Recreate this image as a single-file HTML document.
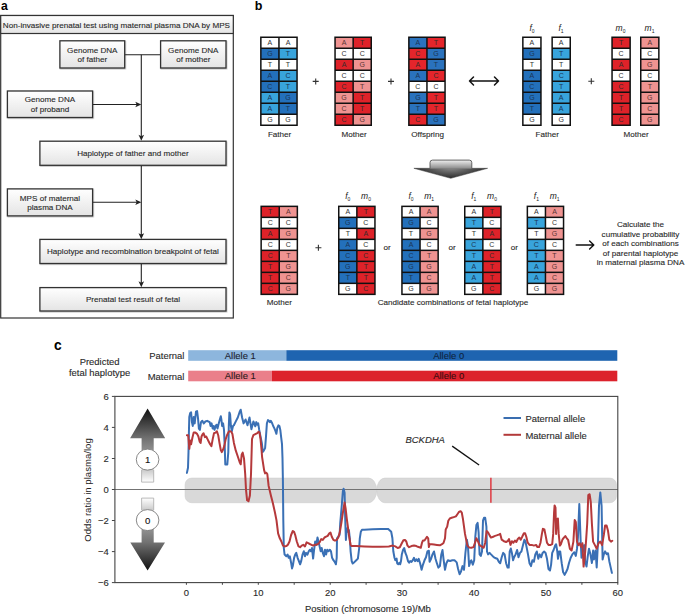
<!DOCTYPE html><html><head><meta charset="utf-8"><style>html,body{margin:0;padding:0;background:#fff;}svg{display:block;}text{font-family:"Liberation Sans",sans-serif;}</style></head><body>
<svg width="685" height="615" viewBox="0 0 685 615">
<defs>
<linearGradient id="boxg" x1="0" y1="0" x2="0" y2="1"><stop offset="0" stop-color="#ffffff"/><stop offset="1" stop-color="#e4e4e4"/></linearGradient>
<linearGradient id="bigarrow" x1="0" y1="0" x2="0" y2="1"><stop offset="0" stop-color="#e6e6e6"/><stop offset="0.45" stop-color="#9a9a9a"/><stop offset="1" stop-color="#2a2a2a"/></linearGradient>
<linearGradient id="upg" x1="0" y1="0" x2="0" y2="1"><stop offset="0" stop-color="#111111"/><stop offset="0.4" stop-color="#707070"/><stop offset="0.75" stop-color="#b0b0b0"/><stop offset="1" stop-color="#ffffff"/></linearGradient>
<linearGradient id="dng" x1="0" y1="1" x2="0" y2="0"><stop offset="0" stop-color="#111111"/><stop offset="0.39" stop-color="#727272"/><stop offset="0.75" stop-color="#b0b0b0"/><stop offset="1" stop-color="#ffffff"/></linearGradient>
<linearGradient id="shaftg" x1="0" y1="0" x2="0" y2="1"><stop offset="0" stop-color="#f2f2f2"/><stop offset="0.25" stop-color="#d6d6d6"/><stop offset="1" stop-color="#8a8a8a"/></linearGradient>
<radialGradient id="headg" gradientUnits="userSpaceOnUse" cx="0" cy="0" r="1" gradientTransform="translate(450.8,167.5) scale(38,11.5)"><stop offset="0" stop-color="#8e8e8e"/><stop offset="0.45" stop-color="#5e5e5e"/><stop offset="1" stop-color="#252525"/></radialGradient>
<filter id="sh" x="-5%" y="-5%" width="115%" height="130%"><feDropShadow dx="0.6" dy="0.8" stdDeviation="0.6" flood-color="#000" flood-opacity="0.25"/></filter>
</defs>
<text x="0.9" y="9.8" font-size="12.2" text-anchor="start" fill="#000" stroke="#000" stroke-width="0" font-weight="bold" font-style="normal" >a</text>
<rect x="0.7" y="15.5" width="232.6" height="302.5" fill="#fff" stroke="#333" stroke-width="1.2"/>
<rect x="0.7" y="15.5" width="232.6" height="18" fill="url(#boxg)" stroke="#333" stroke-width="1.2"/>
<text x="116.4" y="27.7" font-size="8.12" text-anchor="middle" fill="#2a2a2a" stroke="#2a2a2a" stroke-width="0.12" font-weight="normal" font-style="normal" >Non-invasive prenatal test using maternal plasma DNA by MPS</text>
<g stroke="#222" stroke-width="1.1" fill="none">
<path d="M124.7,54.8H160.6"/>
<path d="M141.3,54.8V138"/>
<path d="M92.6,104.5H139"/>
<path d="M141.3,165.3V236"/>
<path d="M92.6,202.3H139"/>
<path d="M141.3,263.5V284.5"/>
</g>
<path d="M141.3,104.5 L135.3,101.7 L136.70000000000002,104.5 L135.3,107.3Z" fill="#222"/>
<path d="M141.3,202.3 L135.3,199.5 L136.70000000000002,202.3 L135.3,205.10000000000002Z" fill="#222"/>
<path d="M141.3,140.8 L138.5,134.8 L141.3,136.20000000000002 L144.10000000000002,134.8Z" fill="#222"/>
<path d="M141.3,239.2 L138.5,233.2 L141.3,234.6 L144.10000000000002,233.2Z" fill="#222"/>
<path d="M141.3,287.3 L138.5,281.3 L141.3,282.7 L144.10000000000002,281.3Z" fill="#222"/>
<rect x="59.9" y="40.8" width="64.80000000000001" height="27.200000000000003" fill="url(#boxg)" stroke="#333" stroke-width="1.3" filter="url(#sh)"/>
<text x="92.3" y="52.52" font-size="8.1" text-anchor="middle" fill="#2a2a2a" stroke="#2a2a2a" stroke-width="0.12" font-weight="normal" font-style="normal" >Genome DNA</text>
<text x="92.3" y="62.12" font-size="8.1" text-anchor="middle" fill="#2a2a2a" stroke="#2a2a2a" stroke-width="0.12" font-weight="normal" font-style="normal" >of father</text>
<rect x="160.6" y="40.8" width="65.4" height="27.200000000000003" fill="url(#boxg)" stroke="#333" stroke-width="1.3" filter="url(#sh)"/>
<text x="193.3" y="52.52" font-size="8.1" text-anchor="middle" fill="#2a2a2a" stroke="#2a2a2a" stroke-width="0.12" font-weight="normal" font-style="normal" >Genome DNA</text>
<text x="193.3" y="62.12" font-size="8.1" text-anchor="middle" fill="#2a2a2a" stroke="#2a2a2a" stroke-width="0.12" font-weight="normal" font-style="normal" >of mother</text>
<rect x="7.4" y="91.0" width="85.19999999999999" height="26.5" fill="url(#boxg)" stroke="#333" stroke-width="1.3" filter="url(#sh)"/>
<text x="50.0" y="102.37" font-size="8.1" text-anchor="middle" fill="#2a2a2a" stroke="#2a2a2a" stroke-width="0.12" font-weight="normal" font-style="normal" >Genome DNA</text>
<text x="50.0" y="111.97" font-size="8.1" text-anchor="middle" fill="#2a2a2a" stroke="#2a2a2a" stroke-width="0.12" font-weight="normal" font-style="normal" >of proband</text>
<rect x="39.9" y="141.2" width="186.1" height="24.100000000000023" fill="url(#boxg)" stroke="#333" stroke-width="1.3" filter="url(#sh)"/>
<text x="132.95" y="156.17" font-size="8.1" text-anchor="middle" fill="#2a2a2a" stroke="#2a2a2a" stroke-width="0.12" font-weight="normal" font-style="normal" >Haplotype of father and mother</text>
<rect x="7.4" y="188.9" width="85.19999999999999" height="27.0" fill="url(#boxg)" stroke="#333" stroke-width="1.3" filter="url(#sh)"/>
<text x="50.0" y="200.52" font-size="8.1" text-anchor="middle" fill="#2a2a2a" stroke="#2a2a2a" stroke-width="0.12" font-weight="normal" font-style="normal" >MPS of maternal</text>
<text x="50.0" y="210.12" font-size="8.1" text-anchor="middle" fill="#2a2a2a" stroke="#2a2a2a" stroke-width="0.12" font-weight="normal" font-style="normal" >plasma DNA</text>
<rect x="39.9" y="239.4" width="186.1" height="24.099999999999994" fill="url(#boxg)" stroke="#333" stroke-width="1.3" filter="url(#sh)"/>
<text x="132.95" y="254.37" font-size="8.1" text-anchor="middle" fill="#2a2a2a" stroke="#2a2a2a" stroke-width="0.12" font-weight="normal" font-style="normal" >Haplotype and recombination breakpoint of fetal</text>
<rect x="39.9" y="287.6" width="186.1" height="23.399999999999977" fill="url(#boxg)" stroke="#333" stroke-width="1.3" filter="url(#sh)"/>
<text x="132.95" y="302.22" font-size="8.1" text-anchor="middle" fill="#2a2a2a" stroke="#2a2a2a" stroke-width="0.12" font-weight="normal" font-style="normal" >Prenatal test result of fetal</text>
<text x="254.8" y="9.7" font-size="12.5" text-anchor="start" fill="#000" stroke="#000" stroke-width="0" font-weight="bold" font-style="normal" >b</text>
<rect x="260.1" y="36.5" width="37.70" height="89.50" fill="#111"/>
<rect x="261.60" y="38.00" width="16.6" height="9.5" fill="#ffffff"/>
<text x="269.90" y="45.25" font-size="7" text-anchor="middle" fill="#333">A</text>
<rect x="261.60" y="49.00" width="16.6" height="9.5" fill="#2370bb"/>
<text x="269.90" y="56.25" font-size="7" text-anchor="middle" fill="#1b3556">G</text>
<rect x="261.60" y="60.00" width="16.6" height="9.5" fill="#ffffff"/>
<text x="269.90" y="67.25" font-size="7" text-anchor="middle" fill="#333">T</text>
<rect x="261.60" y="71.00" width="16.6" height="9.5" fill="#2370bb"/>
<text x="269.90" y="78.25" font-size="7" text-anchor="middle" fill="#1b3556">A</text>
<rect x="261.60" y="82.00" width="16.6" height="9.5" fill="#2370bb"/>
<text x="269.90" y="89.25" font-size="7" text-anchor="middle" fill="#1b3556">C</text>
<rect x="261.60" y="93.00" width="16.6" height="9.5" fill="#38a4dc"/>
<text x="269.90" y="100.25" font-size="7" text-anchor="middle" fill="#1b3556">A</text>
<rect x="261.60" y="104.00" width="16.6" height="9.5" fill="#38a4dc"/>
<text x="269.90" y="111.25" font-size="7" text-anchor="middle" fill="#1b3556">A</text>
<rect x="261.60" y="115.00" width="16.6" height="9.5" fill="#ffffff"/>
<text x="269.90" y="122.25" font-size="7" text-anchor="middle" fill="#333">G</text>
<rect x="279.70" y="38.00" width="16.6" height="9.5" fill="#ffffff"/>
<text x="288.00" y="45.25" font-size="7" text-anchor="middle" fill="#333">A</text>
<rect x="279.70" y="49.00" width="16.6" height="9.5" fill="#38a4dc"/>
<text x="288.00" y="56.25" font-size="7" text-anchor="middle" fill="#1b3556">T</text>
<rect x="279.70" y="60.00" width="16.6" height="9.5" fill="#ffffff"/>
<text x="288.00" y="67.25" font-size="7" text-anchor="middle" fill="#333">T</text>
<rect x="279.70" y="71.00" width="16.6" height="9.5" fill="#38a4dc"/>
<text x="288.00" y="78.25" font-size="7" text-anchor="middle" fill="#1b3556">C</text>
<rect x="279.70" y="82.00" width="16.6" height="9.5" fill="#38a4dc"/>
<text x="288.00" y="89.25" font-size="7" text-anchor="middle" fill="#1b3556">T</text>
<rect x="279.70" y="93.00" width="16.6" height="9.5" fill="#2370bb"/>
<text x="288.00" y="100.25" font-size="7" text-anchor="middle" fill="#1b3556">G</text>
<rect x="279.70" y="104.00" width="16.6" height="9.5" fill="#2370bb"/>
<text x="288.00" y="111.25" font-size="7" text-anchor="middle" fill="#1b3556">T</text>
<rect x="279.70" y="115.00" width="16.6" height="9.5" fill="#ffffff"/>
<text x="288.00" y="122.25" font-size="7" text-anchor="middle" fill="#333">G</text>
<rect x="334.3" y="36.5" width="37.70" height="89.50" fill="#111"/>
<rect x="335.80" y="38.00" width="16.6" height="9.5" fill="#ef9391"/>
<text x="344.10" y="45.25" font-size="7" text-anchor="middle" fill="#5a3333">A</text>
<rect x="335.80" y="49.00" width="16.6" height="9.5" fill="#ffffff"/>
<text x="344.10" y="56.25" font-size="7" text-anchor="middle" fill="#333">C</text>
<rect x="335.80" y="60.00" width="16.6" height="9.5" fill="#de2229"/>
<text x="344.10" y="67.25" font-size="7" text-anchor="middle" fill="#3a2a2a">A</text>
<rect x="335.80" y="71.00" width="16.6" height="9.5" fill="#ffffff"/>
<text x="344.10" y="78.25" font-size="7" text-anchor="middle" fill="#333">C</text>
<rect x="335.80" y="82.00" width="16.6" height="9.5" fill="#de2229"/>
<text x="344.10" y="89.25" font-size="7" text-anchor="middle" fill="#3a2a2a">C</text>
<rect x="335.80" y="93.00" width="16.6" height="9.5" fill="#ef9391"/>
<text x="344.10" y="100.25" font-size="7" text-anchor="middle" fill="#5a3333">G</text>
<rect x="335.80" y="104.00" width="16.6" height="9.5" fill="#ef9391"/>
<text x="344.10" y="111.25" font-size="7" text-anchor="middle" fill="#5a3333">C</text>
<rect x="335.80" y="115.00" width="16.6" height="9.5" fill="#de2229"/>
<text x="344.10" y="122.25" font-size="7" text-anchor="middle" fill="#3a2a2a">C</text>
<rect x="353.90" y="38.00" width="16.6" height="9.5" fill="#de2229"/>
<text x="362.20" y="45.25" font-size="7" text-anchor="middle" fill="#3a2a2a">T</text>
<rect x="353.90" y="49.00" width="16.6" height="9.5" fill="#ffffff"/>
<text x="362.20" y="56.25" font-size="7" text-anchor="middle" fill="#333">C</text>
<rect x="353.90" y="60.00" width="16.6" height="9.5" fill="#ef9391"/>
<text x="362.20" y="67.25" font-size="7" text-anchor="middle" fill="#5a3333">G</text>
<rect x="353.90" y="71.00" width="16.6" height="9.5" fill="#ffffff"/>
<text x="362.20" y="78.25" font-size="7" text-anchor="middle" fill="#333">C</text>
<rect x="353.90" y="82.00" width="16.6" height="9.5" fill="#ef9391"/>
<text x="362.20" y="89.25" font-size="7" text-anchor="middle" fill="#5a3333">T</text>
<rect x="353.90" y="93.00" width="16.6" height="9.5" fill="#de2229"/>
<text x="362.20" y="100.25" font-size="7" text-anchor="middle" fill="#3a2a2a">T</text>
<rect x="353.90" y="104.00" width="16.6" height="9.5" fill="#de2229"/>
<text x="362.20" y="111.25" font-size="7" text-anchor="middle" fill="#3a2a2a">T</text>
<rect x="353.90" y="115.00" width="16.6" height="9.5" fill="#ef9391"/>
<text x="362.20" y="122.25" font-size="7" text-anchor="middle" fill="#5a3333">G</text>
<rect x="408.1" y="36.5" width="37.70" height="89.50" fill="#111"/>
<rect x="409.60" y="38.00" width="16.6" height="9.5" fill="#2a72bd"/>
<text x="417.90" y="45.25" font-size="7" text-anchor="middle" fill="#1b3556">A</text>
<rect x="409.60" y="49.00" width="16.6" height="9.5" fill="#e4252b"/>
<text x="417.90" y="56.25" font-size="7" text-anchor="middle" fill="#3a2a2a">C</text>
<rect x="409.60" y="60.00" width="16.6" height="9.5" fill="#e4252b"/>
<text x="417.90" y="67.25" font-size="7" text-anchor="middle" fill="#3a2a2a">A</text>
<rect x="409.60" y="71.00" width="16.6" height="9.5" fill="#2a72bd"/>
<text x="417.90" y="78.25" font-size="7" text-anchor="middle" fill="#1b3556">A</text>
<rect x="409.60" y="82.00" width="16.6" height="9.5" fill="#ffffff"/>
<text x="417.90" y="89.25" font-size="7" text-anchor="middle" fill="#333">C</text>
<rect x="409.60" y="93.00" width="16.6" height="9.5" fill="#2a72bd"/>
<text x="417.90" y="100.25" font-size="7" text-anchor="middle" fill="#1b3556">G</text>
<rect x="409.60" y="104.00" width="16.6" height="9.5" fill="#2a72bd"/>
<text x="417.90" y="111.25" font-size="7" text-anchor="middle" fill="#1b3556">T</text>
<rect x="409.60" y="115.00" width="16.6" height="9.5" fill="#e4252b"/>
<text x="417.90" y="122.25" font-size="7" text-anchor="middle" fill="#3a2a2a">C</text>
<rect x="427.70" y="38.00" width="16.6" height="9.5" fill="#e4252b"/>
<text x="436.00" y="45.25" font-size="7" text-anchor="middle" fill="#3a2a2a">T</text>
<rect x="427.70" y="49.00" width="16.6" height="9.5" fill="#2a72bd"/>
<text x="436.00" y="56.25" font-size="7" text-anchor="middle" fill="#1b3556">G</text>
<rect x="427.70" y="60.00" width="16.6" height="9.5" fill="#2a72bd"/>
<text x="436.00" y="67.25" font-size="7" text-anchor="middle" fill="#1b3556">T</text>
<rect x="427.70" y="71.00" width="16.6" height="9.5" fill="#e4252b"/>
<text x="436.00" y="78.25" font-size="7" text-anchor="middle" fill="#3a2a2a">C</text>
<rect x="427.70" y="82.00" width="16.6" height="9.5" fill="#ffffff"/>
<text x="436.00" y="89.25" font-size="7" text-anchor="middle" fill="#333">C</text>
<rect x="427.70" y="93.00" width="16.6" height="9.5" fill="#e4252b"/>
<text x="436.00" y="100.25" font-size="7" text-anchor="middle" fill="#3a2a2a">T</text>
<rect x="427.70" y="104.00" width="16.6" height="9.5" fill="#e4252b"/>
<text x="436.00" y="111.25" font-size="7" text-anchor="middle" fill="#3a2a2a">T</text>
<rect x="427.70" y="115.00" width="16.6" height="9.5" fill="#2a72bd"/>
<text x="436.00" y="122.25" font-size="7" text-anchor="middle" fill="#1b3556">G</text>
<rect x="522.1" y="36.5" width="19.60" height="89.50" fill="#111"/>
<rect x="523.60" y="38.00" width="16.6" height="9.5" fill="#ffffff"/>
<text x="531.90" y="45.25" font-size="7" text-anchor="middle" fill="#333">A</text>
<rect x="523.60" y="49.00" width="16.6" height="9.5" fill="#2370bb"/>
<text x="531.90" y="56.25" font-size="7" text-anchor="middle" fill="#1b3556">G</text>
<rect x="523.60" y="60.00" width="16.6" height="9.5" fill="#ffffff"/>
<text x="531.90" y="67.25" font-size="7" text-anchor="middle" fill="#333">T</text>
<rect x="523.60" y="71.00" width="16.6" height="9.5" fill="#2370bb"/>
<text x="531.90" y="78.25" font-size="7" text-anchor="middle" fill="#1b3556">A</text>
<rect x="523.60" y="82.00" width="16.6" height="9.5" fill="#2370bb"/>
<text x="531.90" y="89.25" font-size="7" text-anchor="middle" fill="#1b3556">C</text>
<rect x="523.60" y="93.00" width="16.6" height="9.5" fill="#2370bb"/>
<text x="531.90" y="100.25" font-size="7" text-anchor="middle" fill="#1b3556">G</text>
<rect x="523.60" y="104.00" width="16.6" height="9.5" fill="#2370bb"/>
<text x="531.90" y="111.25" font-size="7" text-anchor="middle" fill="#1b3556">T</text>
<rect x="523.60" y="115.00" width="16.6" height="9.5" fill="#ffffff"/>
<text x="531.90" y="122.25" font-size="7" text-anchor="middle" fill="#333">G</text>
<rect x="551.4" y="36.5" width="19.60" height="89.50" fill="#111"/>
<rect x="552.90" y="38.00" width="16.6" height="9.5" fill="#ffffff"/>
<text x="561.20" y="45.25" font-size="7" text-anchor="middle" fill="#333">A</text>
<rect x="552.90" y="49.00" width="16.6" height="9.5" fill="#38a4dc"/>
<text x="561.20" y="56.25" font-size="7" text-anchor="middle" fill="#1b3556">T</text>
<rect x="552.90" y="60.00" width="16.6" height="9.5" fill="#ffffff"/>
<text x="561.20" y="67.25" font-size="7" text-anchor="middle" fill="#333">T</text>
<rect x="552.90" y="71.00" width="16.6" height="9.5" fill="#38a4dc"/>
<text x="561.20" y="78.25" font-size="7" text-anchor="middle" fill="#1b3556">C</text>
<rect x="552.90" y="82.00" width="16.6" height="9.5" fill="#38a4dc"/>
<text x="561.20" y="89.25" font-size="7" text-anchor="middle" fill="#1b3556">T</text>
<rect x="552.90" y="93.00" width="16.6" height="9.5" fill="#38a4dc"/>
<text x="561.20" y="100.25" font-size="7" text-anchor="middle" fill="#1b3556">A</text>
<rect x="552.90" y="104.00" width="16.6" height="9.5" fill="#38a4dc"/>
<text x="561.20" y="111.25" font-size="7" text-anchor="middle" fill="#1b3556">A</text>
<rect x="552.90" y="115.00" width="16.6" height="9.5" fill="#ffffff"/>
<text x="561.20" y="122.25" font-size="7" text-anchor="middle" fill="#333">G</text>
<rect x="611.3" y="36.5" width="19.60" height="89.50" fill="#111"/>
<rect x="612.80" y="38.00" width="16.6" height="9.5" fill="#de2229"/>
<text x="621.10" y="45.25" font-size="7" text-anchor="middle" fill="#3a2a2a">T</text>
<rect x="612.80" y="49.00" width="16.6" height="9.5" fill="#ffffff"/>
<text x="621.10" y="56.25" font-size="7" text-anchor="middle" fill="#333">C</text>
<rect x="612.80" y="60.00" width="16.6" height="9.5" fill="#de2229"/>
<text x="621.10" y="67.25" font-size="7" text-anchor="middle" fill="#3a2a2a">A</text>
<rect x="612.80" y="71.00" width="16.6" height="9.5" fill="#ffffff"/>
<text x="621.10" y="78.25" font-size="7" text-anchor="middle" fill="#333">C</text>
<rect x="612.80" y="82.00" width="16.6" height="9.5" fill="#de2229"/>
<text x="621.10" y="89.25" font-size="7" text-anchor="middle" fill="#3a2a2a">C</text>
<rect x="612.80" y="93.00" width="16.6" height="9.5" fill="#de2229"/>
<text x="621.10" y="100.25" font-size="7" text-anchor="middle" fill="#3a2a2a">T</text>
<rect x="612.80" y="104.00" width="16.6" height="9.5" fill="#de2229"/>
<text x="621.10" y="111.25" font-size="7" text-anchor="middle" fill="#3a2a2a">T</text>
<rect x="612.80" y="115.00" width="16.6" height="9.5" fill="#de2229"/>
<text x="621.10" y="122.25" font-size="7" text-anchor="middle" fill="#3a2a2a">C</text>
<rect x="640.0" y="36.5" width="19.60" height="89.50" fill="#111"/>
<rect x="641.50" y="38.00" width="16.6" height="9.5" fill="#ef9391"/>
<text x="649.80" y="45.25" font-size="7" text-anchor="middle" fill="#5a3333">A</text>
<rect x="641.50" y="49.00" width="16.6" height="9.5" fill="#ffffff"/>
<text x="649.80" y="56.25" font-size="7" text-anchor="middle" fill="#333">C</text>
<rect x="641.50" y="60.00" width="16.6" height="9.5" fill="#ef9391"/>
<text x="649.80" y="67.25" font-size="7" text-anchor="middle" fill="#5a3333">G</text>
<rect x="641.50" y="71.00" width="16.6" height="9.5" fill="#ffffff"/>
<text x="649.80" y="78.25" font-size="7" text-anchor="middle" fill="#333">C</text>
<rect x="641.50" y="82.00" width="16.6" height="9.5" fill="#ef9391"/>
<text x="649.80" y="89.25" font-size="7" text-anchor="middle" fill="#5a3333">T</text>
<rect x="641.50" y="93.00" width="16.6" height="9.5" fill="#ef9391"/>
<text x="649.80" y="100.25" font-size="7" text-anchor="middle" fill="#5a3333">G</text>
<rect x="641.50" y="104.00" width="16.6" height="9.5" fill="#ef9391"/>
<text x="649.80" y="111.25" font-size="7" text-anchor="middle" fill="#5a3333">C</text>
<rect x="641.50" y="115.00" width="16.6" height="9.5" fill="#ef9391"/>
<text x="649.80" y="122.25" font-size="7" text-anchor="middle" fill="#5a3333">G</text>
<path d="M312.7,81.4H318.7M315.7,78.4V84.4" stroke="#333" stroke-width="1.1" fill="none"/>
<path d="M388.0,81.4H394.0M391.0,78.4V84.4" stroke="#333" stroke-width="1.1" fill="none"/>
<path d="M588.3,81.3H594.3M591.3,78.3V84.3" stroke="#333" stroke-width="1.1" fill="none"/>
<path d="M469.5,81H498.5M473.5,77L469.5,81L473.5,85M494.5,77L498.5,81L494.5,85" stroke="#111" stroke-width="1.5" fill="none" stroke-linecap="round" stroke-linejoin="round"/>
<text x="279.6" y="137.4" font-size="8.1" text-anchor="middle" fill="#2a2a2a" stroke="#2a2a2a" stroke-width="0.12" font-weight="normal" font-style="normal" >Father</text>
<text x="354.0" y="137.4" font-size="8.1" text-anchor="middle" fill="#2a2a2a" stroke="#2a2a2a" stroke-width="0.12" font-weight="normal" font-style="normal" >Mother</text>
<text x="427.6" y="137.4" font-size="8.1" text-anchor="middle" fill="#2a2a2a" stroke="#2a2a2a" stroke-width="0.12" font-weight="normal" font-style="normal" >Offspring</text>
<text x="547.2" y="137.4" font-size="8.1" text-anchor="middle" fill="#2a2a2a" stroke="#2a2a2a" stroke-width="0.12" font-weight="normal" font-style="normal" >Father</text>
<text x="636.0" y="137.4" font-size="8.1" text-anchor="middle" fill="#2a2a2a" stroke="#2a2a2a" stroke-width="0.12" font-weight="normal" font-style="normal" >Mother</text>
<text x="532.0" y="30.7" font-size="8.5" font-style="italic" fill="#222" text-anchor="middle">f<tspan font-size="5" dy="2" font-style="normal">0</tspan></text>
<text x="561.0" y="30.7" font-size="8.5" font-style="italic" fill="#222" text-anchor="middle">f<tspan font-size="5" dy="2" font-style="normal">1</tspan></text>
<text x="620.5" y="30.7" font-size="8.5" font-style="italic" fill="#222" text-anchor="middle">m<tspan font-size="5" dy="2" font-style="normal">0</tspan></text>
<text x="649.5" y="30.7" font-size="8.5" font-style="italic" fill="#222" text-anchor="middle">m<tspan font-size="5" dy="2" font-style="normal">1</tspan></text>
<path d="M413.9,168.3 H487.6 L450.8,178.3 Z" fill="url(#headg)" stroke="#3a3a3a" stroke-width="0.5" stroke-linejoin="round"/>
<path d="M430,168.6 V162.6 Q430,160.1 432.5,160.1 H469.3 Q471.8,160.1 471.8,162.6 V168.6" fill="url(#shaftg)" stroke="#555" stroke-width="0.9"/>
<rect x="260.4" y="205.6" width="37.70" height="89.50" fill="#111"/>
<rect x="261.90" y="207.10" width="16.6" height="9.5" fill="#de2229"/>
<text x="270.20" y="214.35" font-size="7" text-anchor="middle" fill="#3a2a2a">T</text>
<rect x="261.90" y="218.10" width="16.6" height="9.5" fill="#ffffff"/>
<text x="270.20" y="225.35" font-size="7" text-anchor="middle" fill="#333">C</text>
<rect x="261.90" y="229.10" width="16.6" height="9.5" fill="#de2229"/>
<text x="270.20" y="236.35" font-size="7" text-anchor="middle" fill="#3a2a2a">A</text>
<rect x="261.90" y="240.10" width="16.6" height="9.5" fill="#ffffff"/>
<text x="270.20" y="247.35" font-size="7" text-anchor="middle" fill="#333">C</text>
<rect x="261.90" y="251.10" width="16.6" height="9.5" fill="#de2229"/>
<text x="270.20" y="258.35" font-size="7" text-anchor="middle" fill="#3a2a2a">C</text>
<rect x="261.90" y="262.10" width="16.6" height="9.5" fill="#de2229"/>
<text x="270.20" y="269.35" font-size="7" text-anchor="middle" fill="#3a2a2a">T</text>
<rect x="261.90" y="273.10" width="16.6" height="9.5" fill="#de2229"/>
<text x="270.20" y="280.35" font-size="7" text-anchor="middle" fill="#3a2a2a">T</text>
<rect x="261.90" y="284.10" width="16.6" height="9.5" fill="#de2229"/>
<text x="270.20" y="291.35" font-size="7" text-anchor="middle" fill="#3a2a2a">C</text>
<rect x="280.00" y="207.10" width="16.6" height="9.5" fill="#ef9391"/>
<text x="288.30" y="214.35" font-size="7" text-anchor="middle" fill="#5a3333">A</text>
<rect x="280.00" y="218.10" width="16.6" height="9.5" fill="#ffffff"/>
<text x="288.30" y="225.35" font-size="7" text-anchor="middle" fill="#333">C</text>
<rect x="280.00" y="229.10" width="16.6" height="9.5" fill="#ef9391"/>
<text x="288.30" y="236.35" font-size="7" text-anchor="middle" fill="#5a3333">G</text>
<rect x="280.00" y="240.10" width="16.6" height="9.5" fill="#ffffff"/>
<text x="288.30" y="247.35" font-size="7" text-anchor="middle" fill="#333">C</text>
<rect x="280.00" y="251.10" width="16.6" height="9.5" fill="#ef9391"/>
<text x="288.30" y="258.35" font-size="7" text-anchor="middle" fill="#5a3333">T</text>
<rect x="280.00" y="262.10" width="16.6" height="9.5" fill="#ef9391"/>
<text x="288.30" y="269.35" font-size="7" text-anchor="middle" fill="#5a3333">G</text>
<rect x="280.00" y="273.10" width="16.6" height="9.5" fill="#ef9391"/>
<text x="288.30" y="280.35" font-size="7" text-anchor="middle" fill="#5a3333">C</text>
<rect x="280.00" y="284.10" width="16.6" height="9.5" fill="#ef9391"/>
<text x="288.30" y="291.35" font-size="7" text-anchor="middle" fill="#5a3333">G</text>
<rect x="338.0" y="205.6" width="37.70" height="89.50" fill="#111"/>
<rect x="339.50" y="207.10" width="16.6" height="9.5" fill="#ffffff"/>
<text x="347.80" y="214.35" font-size="7" text-anchor="middle" fill="#333">A</text>
<rect x="339.50" y="218.10" width="16.6" height="9.5" fill="#2370bb"/>
<text x="347.80" y="225.35" font-size="7" text-anchor="middle" fill="#1b3556">G</text>
<rect x="339.50" y="229.10" width="16.6" height="9.5" fill="#ffffff"/>
<text x="347.80" y="236.35" font-size="7" text-anchor="middle" fill="#333">T</text>
<rect x="339.50" y="240.10" width="16.6" height="9.5" fill="#2370bb"/>
<text x="347.80" y="247.35" font-size="7" text-anchor="middle" fill="#1b3556">A</text>
<rect x="339.50" y="251.10" width="16.6" height="9.5" fill="#2370bb"/>
<text x="347.80" y="258.35" font-size="7" text-anchor="middle" fill="#1b3556">C</text>
<rect x="339.50" y="262.10" width="16.6" height="9.5" fill="#2370bb"/>
<text x="347.80" y="269.35" font-size="7" text-anchor="middle" fill="#1b3556">G</text>
<rect x="339.50" y="273.10" width="16.6" height="9.5" fill="#2370bb"/>
<text x="347.80" y="280.35" font-size="7" text-anchor="middle" fill="#1b3556">T</text>
<rect x="339.50" y="284.10" width="16.6" height="9.5" fill="#ffffff"/>
<text x="347.80" y="291.35" font-size="7" text-anchor="middle" fill="#333">G</text>
<rect x="357.60" y="207.10" width="16.6" height="9.5" fill="#de2229"/>
<text x="365.90" y="214.35" font-size="7" text-anchor="middle" fill="#3a2a2a">T</text>
<rect x="357.60" y="218.10" width="16.6" height="9.5" fill="#ffffff"/>
<text x="365.90" y="225.35" font-size="7" text-anchor="middle" fill="#333">C</text>
<rect x="357.60" y="229.10" width="16.6" height="9.5" fill="#de2229"/>
<text x="365.90" y="236.35" font-size="7" text-anchor="middle" fill="#3a2a2a">A</text>
<rect x="357.60" y="240.10" width="16.6" height="9.5" fill="#ffffff"/>
<text x="365.90" y="247.35" font-size="7" text-anchor="middle" fill="#333">C</text>
<rect x="357.60" y="251.10" width="16.6" height="9.5" fill="#de2229"/>
<text x="365.90" y="258.35" font-size="7" text-anchor="middle" fill="#3a2a2a">C</text>
<rect x="357.60" y="262.10" width="16.6" height="9.5" fill="#de2229"/>
<text x="365.90" y="269.35" font-size="7" text-anchor="middle" fill="#3a2a2a">T</text>
<rect x="357.60" y="273.10" width="16.6" height="9.5" fill="#de2229"/>
<text x="365.90" y="280.35" font-size="7" text-anchor="middle" fill="#3a2a2a">T</text>
<rect x="357.60" y="284.10" width="16.6" height="9.5" fill="#de2229"/>
<text x="365.90" y="291.35" font-size="7" text-anchor="middle" fill="#3a2a2a">C</text>
<rect x="401.2" y="205.6" width="37.70" height="89.50" fill="#111"/>
<rect x="402.70" y="207.10" width="16.6" height="9.5" fill="#ffffff"/>
<text x="411.00" y="214.35" font-size="7" text-anchor="middle" fill="#333">A</text>
<rect x="402.70" y="218.10" width="16.6" height="9.5" fill="#2370bb"/>
<text x="411.00" y="225.35" font-size="7" text-anchor="middle" fill="#1b3556">G</text>
<rect x="402.70" y="229.10" width="16.6" height="9.5" fill="#ffffff"/>
<text x="411.00" y="236.35" font-size="7" text-anchor="middle" fill="#333">T</text>
<rect x="402.70" y="240.10" width="16.6" height="9.5" fill="#2370bb"/>
<text x="411.00" y="247.35" font-size="7" text-anchor="middle" fill="#1b3556">A</text>
<rect x="402.70" y="251.10" width="16.6" height="9.5" fill="#2370bb"/>
<text x="411.00" y="258.35" font-size="7" text-anchor="middle" fill="#1b3556">C</text>
<rect x="402.70" y="262.10" width="16.6" height="9.5" fill="#2370bb"/>
<text x="411.00" y="269.35" font-size="7" text-anchor="middle" fill="#1b3556">G</text>
<rect x="402.70" y="273.10" width="16.6" height="9.5" fill="#2370bb"/>
<text x="411.00" y="280.35" font-size="7" text-anchor="middle" fill="#1b3556">T</text>
<rect x="402.70" y="284.10" width="16.6" height="9.5" fill="#ffffff"/>
<text x="411.00" y="291.35" font-size="7" text-anchor="middle" fill="#333">G</text>
<rect x="420.80" y="207.10" width="16.6" height="9.5" fill="#ef9391"/>
<text x="429.10" y="214.35" font-size="7" text-anchor="middle" fill="#5a3333">A</text>
<rect x="420.80" y="218.10" width="16.6" height="9.5" fill="#ffffff"/>
<text x="429.10" y="225.35" font-size="7" text-anchor="middle" fill="#333">C</text>
<rect x="420.80" y="229.10" width="16.6" height="9.5" fill="#ef9391"/>
<text x="429.10" y="236.35" font-size="7" text-anchor="middle" fill="#5a3333">G</text>
<rect x="420.80" y="240.10" width="16.6" height="9.5" fill="#ffffff"/>
<text x="429.10" y="247.35" font-size="7" text-anchor="middle" fill="#333">C</text>
<rect x="420.80" y="251.10" width="16.6" height="9.5" fill="#ef9391"/>
<text x="429.10" y="258.35" font-size="7" text-anchor="middle" fill="#5a3333">T</text>
<rect x="420.80" y="262.10" width="16.6" height="9.5" fill="#ef9391"/>
<text x="429.10" y="269.35" font-size="7" text-anchor="middle" fill="#5a3333">G</text>
<rect x="420.80" y="273.10" width="16.6" height="9.5" fill="#ef9391"/>
<text x="429.10" y="280.35" font-size="7" text-anchor="middle" fill="#5a3333">C</text>
<rect x="420.80" y="284.10" width="16.6" height="9.5" fill="#ef9391"/>
<text x="429.10" y="291.35" font-size="7" text-anchor="middle" fill="#5a3333">G</text>
<rect x="464.0" y="205.6" width="37.70" height="89.50" fill="#111"/>
<rect x="465.50" y="207.10" width="16.6" height="9.5" fill="#ffffff"/>
<text x="473.80" y="214.35" font-size="7" text-anchor="middle" fill="#333">A</text>
<rect x="465.50" y="218.10" width="16.6" height="9.5" fill="#38a4dc"/>
<text x="473.80" y="225.35" font-size="7" text-anchor="middle" fill="#1b3556">T</text>
<rect x="465.50" y="229.10" width="16.6" height="9.5" fill="#ffffff"/>
<text x="473.80" y="236.35" font-size="7" text-anchor="middle" fill="#333">T</text>
<rect x="465.50" y="240.10" width="16.6" height="9.5" fill="#38a4dc"/>
<text x="473.80" y="247.35" font-size="7" text-anchor="middle" fill="#1b3556">C</text>
<rect x="465.50" y="251.10" width="16.6" height="9.5" fill="#38a4dc"/>
<text x="473.80" y="258.35" font-size="7" text-anchor="middle" fill="#1b3556">T</text>
<rect x="465.50" y="262.10" width="16.6" height="9.5" fill="#38a4dc"/>
<text x="473.80" y="269.35" font-size="7" text-anchor="middle" fill="#1b3556">A</text>
<rect x="465.50" y="273.10" width="16.6" height="9.5" fill="#38a4dc"/>
<text x="473.80" y="280.35" font-size="7" text-anchor="middle" fill="#1b3556">A</text>
<rect x="465.50" y="284.10" width="16.6" height="9.5" fill="#ffffff"/>
<text x="473.80" y="291.35" font-size="7" text-anchor="middle" fill="#333">G</text>
<rect x="483.60" y="207.10" width="16.6" height="9.5" fill="#de2229"/>
<text x="491.90" y="214.35" font-size="7" text-anchor="middle" fill="#3a2a2a">T</text>
<rect x="483.60" y="218.10" width="16.6" height="9.5" fill="#ffffff"/>
<text x="491.90" y="225.35" font-size="7" text-anchor="middle" fill="#333">C</text>
<rect x="483.60" y="229.10" width="16.6" height="9.5" fill="#de2229"/>
<text x="491.90" y="236.35" font-size="7" text-anchor="middle" fill="#3a2a2a">A</text>
<rect x="483.60" y="240.10" width="16.6" height="9.5" fill="#ffffff"/>
<text x="491.90" y="247.35" font-size="7" text-anchor="middle" fill="#333">C</text>
<rect x="483.60" y="251.10" width="16.6" height="9.5" fill="#de2229"/>
<text x="491.90" y="258.35" font-size="7" text-anchor="middle" fill="#3a2a2a">C</text>
<rect x="483.60" y="262.10" width="16.6" height="9.5" fill="#de2229"/>
<text x="491.90" y="269.35" font-size="7" text-anchor="middle" fill="#3a2a2a">T</text>
<rect x="483.60" y="273.10" width="16.6" height="9.5" fill="#de2229"/>
<text x="491.90" y="280.35" font-size="7" text-anchor="middle" fill="#3a2a2a">T</text>
<rect x="483.60" y="284.10" width="16.6" height="9.5" fill="#de2229"/>
<text x="491.90" y="291.35" font-size="7" text-anchor="middle" fill="#3a2a2a">C</text>
<rect x="526.6" y="205.6" width="37.70" height="89.50" fill="#111"/>
<rect x="528.10" y="207.10" width="16.6" height="9.5" fill="#ffffff"/>
<text x="536.40" y="214.35" font-size="7" text-anchor="middle" fill="#333">A</text>
<rect x="528.10" y="218.10" width="16.6" height="9.5" fill="#38a4dc"/>
<text x="536.40" y="225.35" font-size="7" text-anchor="middle" fill="#1b3556">T</text>
<rect x="528.10" y="229.10" width="16.6" height="9.5" fill="#ffffff"/>
<text x="536.40" y="236.35" font-size="7" text-anchor="middle" fill="#333">T</text>
<rect x="528.10" y="240.10" width="16.6" height="9.5" fill="#38a4dc"/>
<text x="536.40" y="247.35" font-size="7" text-anchor="middle" fill="#1b3556">C</text>
<rect x="528.10" y="251.10" width="16.6" height="9.5" fill="#38a4dc"/>
<text x="536.40" y="258.35" font-size="7" text-anchor="middle" fill="#1b3556">T</text>
<rect x="528.10" y="262.10" width="16.6" height="9.5" fill="#38a4dc"/>
<text x="536.40" y="269.35" font-size="7" text-anchor="middle" fill="#1b3556">A</text>
<rect x="528.10" y="273.10" width="16.6" height="9.5" fill="#38a4dc"/>
<text x="536.40" y="280.35" font-size="7" text-anchor="middle" fill="#1b3556">A</text>
<rect x="528.10" y="284.10" width="16.6" height="9.5" fill="#ffffff"/>
<text x="536.40" y="291.35" font-size="7" text-anchor="middle" fill="#333">G</text>
<rect x="546.20" y="207.10" width="16.6" height="9.5" fill="#ef9391"/>
<text x="554.50" y="214.35" font-size="7" text-anchor="middle" fill="#5a3333">A</text>
<rect x="546.20" y="218.10" width="16.6" height="9.5" fill="#ffffff"/>
<text x="554.50" y="225.35" font-size="7" text-anchor="middle" fill="#333">C</text>
<rect x="546.20" y="229.10" width="16.6" height="9.5" fill="#ef9391"/>
<text x="554.50" y="236.35" font-size="7" text-anchor="middle" fill="#5a3333">G</text>
<rect x="546.20" y="240.10" width="16.6" height="9.5" fill="#ffffff"/>
<text x="554.50" y="247.35" font-size="7" text-anchor="middle" fill="#333">C</text>
<rect x="546.20" y="251.10" width="16.6" height="9.5" fill="#ef9391"/>
<text x="554.50" y="258.35" font-size="7" text-anchor="middle" fill="#5a3333">T</text>
<rect x="546.20" y="262.10" width="16.6" height="9.5" fill="#ef9391"/>
<text x="554.50" y="269.35" font-size="7" text-anchor="middle" fill="#5a3333">G</text>
<rect x="546.20" y="273.10" width="16.6" height="9.5" fill="#ef9391"/>
<text x="554.50" y="280.35" font-size="7" text-anchor="middle" fill="#5a3333">C</text>
<rect x="546.20" y="284.10" width="16.6" height="9.5" fill="#ef9391"/>
<text x="554.50" y="291.35" font-size="7" text-anchor="middle" fill="#5a3333">G</text>
<path d="M315.4,247.8H321.4M318.4,244.8V250.8" stroke="#333" stroke-width="1.1" fill="none"/>
<text x="387.2" y="250.4" font-size="8.1" text-anchor="middle" fill="#2a2a2a" stroke="#2a2a2a" stroke-width="0.12" font-weight="normal" font-style="normal" >or</text>
<text x="452.0" y="250.4" font-size="8.1" text-anchor="middle" fill="#2a2a2a" stroke="#2a2a2a" stroke-width="0.12" font-weight="normal" font-style="normal" >or</text>
<text x="514.3" y="250.4" font-size="8.1" text-anchor="middle" fill="#2a2a2a" stroke="#2a2a2a" stroke-width="0.12" font-weight="normal" font-style="normal" >or</text>
<text x="347.8" y="198.8" font-size="8.5" font-style="italic" fill="#222" text-anchor="middle">f<tspan font-size="5" dy="2" font-style="normal">0</tspan></text>
<text x="366.0" y="198.8" font-size="8.5" font-style="italic" fill="#222" text-anchor="middle">m<tspan font-size="5" dy="2" font-style="normal">0</tspan></text>
<text x="411.0" y="198.8" font-size="8.5" font-style="italic" fill="#222" text-anchor="middle">f<tspan font-size="5" dy="2" font-style="normal">0</tspan></text>
<text x="429.2" y="198.8" font-size="8.5" font-style="italic" fill="#222" text-anchor="middle">m<tspan font-size="5" dy="2" font-style="normal">1</tspan></text>
<text x="473.8" y="198.8" font-size="8.5" font-style="italic" fill="#222" text-anchor="middle">f<tspan font-size="5" dy="2" font-style="normal">1</tspan></text>
<text x="492.0" y="198.8" font-size="8.5" font-style="italic" fill="#222" text-anchor="middle">m<tspan font-size="5" dy="2" font-style="normal">0</tspan></text>
<text x="536.4" y="198.8" font-size="8.5" font-style="italic" fill="#222" text-anchor="middle">f<tspan font-size="5" dy="2" font-style="normal">1</tspan></text>
<text x="554.6" y="198.8" font-size="8.5" font-style="italic" fill="#222" text-anchor="middle">m<tspan font-size="5" dy="2" font-style="normal">1</tspan></text>
<text x="279.3" y="305.3" font-size="8.1" text-anchor="middle" fill="#2a2a2a" stroke="#2a2a2a" stroke-width="0.12" font-weight="normal" font-style="normal" >Mother</text>
<text x="453.0" y="305.3" font-size="8.1" text-anchor="middle" fill="#2a2a2a" stroke="#2a2a2a" stroke-width="0.12" font-weight="normal" font-style="normal" >Candidate combinations of fetal haplotype</text>
<path d="M576.2,245H593.8M589.6,241L593.8,245L589.6,249" stroke="#111" stroke-width="1.4" fill="none" stroke-linecap="round" stroke-linejoin="round"/>
<text x="640.5" y="227.0" font-size="8.1" text-anchor="middle" fill="#2a2a2a" stroke="#2a2a2a" stroke-width="0.12" font-weight="normal" font-style="normal" >Calculate the</text>
<text x="640.5" y="236.6" font-size="8.1" text-anchor="middle" fill="#2a2a2a" stroke="#2a2a2a" stroke-width="0.12" font-weight="normal" font-style="normal" >cumulative probability</text>
<text x="640.5" y="246.2" font-size="8.1" text-anchor="middle" fill="#2a2a2a" stroke="#2a2a2a" stroke-width="0.12" font-weight="normal" font-style="normal" >of each combinations</text>
<text x="640.5" y="255.8" font-size="8.1" text-anchor="middle" fill="#2a2a2a" stroke="#2a2a2a" stroke-width="0.12" font-weight="normal" font-style="normal" >of parental haplotype</text>
<text x="640.5" y="265.4" font-size="8.1" text-anchor="middle" fill="#2a2a2a" stroke="#2a2a2a" stroke-width="0.12" font-weight="normal" font-style="normal" >in maternal plasma DNA</text>
<text x="53.9" y="349.6" font-size="13.8" text-anchor="start" fill="#000" stroke="#000" stroke-width="0" font-weight="bold" font-style="normal" >c</text>
<text x="99.6" y="365.2" font-size="9.45" text-anchor="middle" fill="#2a2a2a" stroke="#2a2a2a" stroke-width="0.12" font-weight="normal" font-style="normal" >Predicted</text>
<text x="99.6" y="376.0" font-size="9.45" text-anchor="middle" fill="#2a2a2a" stroke="#2a2a2a" stroke-width="0.12" font-weight="normal" font-style="normal" >fetal haplotype</text>
<text x="184.4" y="359.2" font-size="9.45" text-anchor="end" fill="#2a2a2a" stroke="#2a2a2a" stroke-width="0.12" font-weight="normal" font-style="normal" >Paternal</text>
<text x="184.4" y="379.9" font-size="9.45" text-anchor="end" fill="#2a2a2a" stroke="#2a2a2a" stroke-width="0.12" font-weight="normal" font-style="normal" >Maternal</text>
<rect x="188.2" y="350.2" width="98.1" height="10.6" fill="#8db6dd"/>
<rect x="286.3" y="350.2" width="331.0" height="10.6" fill="#1e64b0"/>
<rect x="188.2" y="370.7" width="83.8" height="10.6" fill="#ea7f8a"/>
<rect x="272.0" y="370.7" width="345.3" height="10.6" fill="#dc222c"/>
<text x="240.3" y="358.8" font-size="9.45" text-anchor="middle" fill="#1c2230" stroke="#1c2230" stroke-width="0.12" font-weight="normal" font-style="normal" >Allele 1</text>
<text x="240.3" y="379.3" font-size="9.45" text-anchor="middle" fill="#2a1a1a" stroke="#2a1a1a" stroke-width="0.12" font-weight="normal" font-style="normal" >Allele 1</text>
<text x="448.7" y="358.8" font-size="9.45" text-anchor="middle" fill="#0f2440" stroke="#0f2440" stroke-width="0.12" font-weight="normal" font-style="normal" >Allele 0</text>
<text x="448.7" y="379.3" font-size="9.45" text-anchor="middle" fill="#3a0d10" stroke="#3a0d10" stroke-width="0.12" font-weight="normal" font-style="normal" >Allele 0</text>
<path d="M191.6,478.1 H368.7 A8,12.3 0 0 1 376.7,490.4 A8,12.3 0 0 1 368.7,502.7 H191.6 A6.5,6.5 0 0 1 185.1,496.2 V484.6 A6.5,6.5 0 0 1 191.6,478.1 Z" fill="#d9d9d9" stroke="#cfcfcf" stroke-width="0.6"/>
<path d="M384.7,478.1 H609.9 A6.5,6.5 0 0 1 616.4,484.6 V496.2 A6.5,6.5 0 0 1 609.9,502.7 H384.7 A8,12.3 0 0 1 376.7,490.4 A8,12.3 0 0 1 384.7,478.1 Z" fill="#d9d9d9" stroke="#cfcfcf" stroke-width="0.6"/>
<path d="M114.9,489.5H617.8" stroke="#737373" stroke-width="1"/>
<path d="M490.9,477.8V502.8" stroke="#e0202a" stroke-width="1.3"/>
<path d="M452.2,446.1L479.1,465" stroke="#111" stroke-width="1.3"/>
<text x="405.5" y="442.9" font-size="9.45" text-anchor="start" fill="#2a2a2a" stroke="#2a2a2a" stroke-width="0.12" font-weight="normal" font-style="italic" >BCKDHA</text>
<path d="M503.5,418H521" stroke="#3a6eb0" stroke-width="2"/>
<path d="M503.5,434.8H521" stroke="#b33a3a" stroke-width="2"/>
<text x="525.4" y="421.9" font-size="9.45" text-anchor="start" fill="#2a2a2a" stroke="#2a2a2a" stroke-width="0.12" font-weight="normal" font-style="normal" >Paternal allele</text>
<text x="525.4" y="438.7" font-size="9.45" text-anchor="start" fill="#2a2a2a" stroke="#2a2a2a" stroke-width="0.12" font-weight="normal" font-style="normal" >Maternal allele</text>
<path d="M147.6,408.5 L165.2,438.2 H153.7 V482.1 H141.6 V438.2 H130.1 Z" fill="url(#upg)"/>
<path d="M141.6,470 V482.1 H153.7 V470" fill="none" stroke="#aaa" stroke-width="0.8"/>
<ellipse cx="147.6" cy="459.6" rx="11.3" ry="10.5" fill="#fff" stroke="#7a7a7a" stroke-width="0.9"/>
<text x="147.7" y="462.9" font-size="9.6" text-anchor="middle" fill="#111" stroke="#111" stroke-width="0.12" font-weight="normal" font-style="normal" >1</text>
<path d="M147.6,570.5 L165.0,542.4 H153.7 V498.1 H141.6 V542.4 H130.3 Z" fill="url(#dng)"/>
<path d="M141.6,510 V498.1 H153.7 V510" fill="none" stroke="#aaa" stroke-width="0.8"/>
<ellipse cx="147.6" cy="520.1" rx="11.3" ry="10.5" fill="#fff" stroke="#7a7a7a" stroke-width="0.9"/>
<text x="147.6" y="523.5" font-size="9.6" text-anchor="middle" fill="#111" stroke="#111" stroke-width="0.12" font-weight="normal" font-style="normal" >0</text>
<polyline points="186.9,472.9 188.0,467.7 188.5,452.1 188.9,432.6 189.3,416.9 190.2,413.0 191.1,412.4 191.9,422.1 192.8,426.0 193.7,416.9 194.7,423.4 196.0,411.7 197.1,411.1 198.0,418.2 198.9,428.6 199.9,429.9 201.0,422.1 202.3,420.8 203.8,423.4 205.4,421.5 207.1,420.8 208.4,421.5 209.7,422.1 210.6,426.0 211.6,423.4 212.7,428.6 213.6,426.0 214.5,429.9 215.6,426.0 216.6,424.7 217.5,428.6 218.4,424.7 219.5,420.8 220.8,416.3 221.4,419.5 222.1,426.0 223.1,423.4 224.0,429.9 224.7,445.6 225.3,464.5 227.3,464.5 228.3,452.1 228.8,426.0 229.4,412.4 230.1,414.3 230.9,426.0 231.8,431.2 233.0,426.0 233.9,425.3 235.8,421.4 237.8,417.5 239.7,411.7 240.7,409.7 242.1,417.5 243.6,423.4 245.6,419.5 247.5,425.3 249.5,417.5 251.4,429.2 253.4,421.4 255.3,426.3 256.3,422.1 257.3,424.7 258.2,423.4 259.2,429.9 260.5,436.4 261.8,442.9 262.8,451.9 263.8,450.6 265.1,448.1 266.0,436.4 266.9,423.4 268.0,420.1 269.0,420.8 269.9,422.1 270.8,420.8 271.9,422.7 273.2,426.0 274.5,428.6 275.5,431.2 276.4,433.8 277.3,427.9 278.4,425.3 279.4,426.0 280.3,429.9 281.2,437.7 282.0,444.2 282.5,458.4 282.9,479.9 283.3,520.0 283.8,548.0 284.6,554.6 286.3,556.2 287.6,554.6 288.7,557.8 289.8,556.2 291.1,562.7 292.0,568.4 292.8,566.0 294.1,557.8 295.2,554.6 296.3,552.9 297.6,557.8 298.9,561.1 300.1,564.3 301.2,561.1 302.5,554.6 303.8,551.3 305.0,556.2 306.1,552.9 307.4,554.6 308.7,551.3 309.8,549.7 311.0,551.3 312.0,548.0 313.1,558.6 313.9,551.3 315.2,541.5 316.3,544.8 317.5,537.5 318.5,541.5 319.6,546.4 320.7,551.3 321.7,548.0 322.8,552.9 324.0,556.2 325.0,549.7 326.1,554.6 327.2,549.7 328.5,551.3 329.8,549.7 331.0,551.3 332.1,557.8 333.4,560.2 334.7,561.9 335.9,564.3 336.7,557.8 337.0,538.3 338.3,536.7 339.6,535.0 340.2,523.7 341.6,507.4 342.9,491.1 343.6,488.7 344.6,492.8 345.2,518.8 345.9,539.9 346.8,528.5 348.1,531.8 348.9,530.2 349.8,538.3 350.6,551.3 351.7,561.1 352.7,563.5 354.6,561.9 356.3,560.2 357.9,558.6 359.2,548.0 359.8,538.3 360.8,531.8 362.0,529.8 364.4,529.7 372.5,529.3 380.7,529.0 388.0,528.9 389.6,530.2 391.2,531.8 392.4,538.3 393.3,551.3 394.5,557.8 395.3,560.2 396.6,558.6 397.2,563.5 398.2,564.3 399.3,562.7 400.2,564.3 401.0,561.1 401.8,554.6 403.1,549.7 404.2,548.0 405.4,552.9 406.7,556.2 408.0,561.1 409.1,562.7 410.2,561.1 411.5,561.9 412.8,560.2 414.0,557.8 415.1,561.1 416.4,559.4 417.7,561.1 418.7,558.8 420.1,563.2 421.6,569.8 423.0,564.6 424.5,560.3 426.0,557.3 427.4,551.5 428.9,550.7 429.6,561.7 431.1,558.8 432.5,554.4 434.0,551.5 435.5,558.8 436.9,563.2 438.4,567.6 439.9,566.1 441.3,554.4 442.5,550.0 443.5,558.8 445.0,569.8 446.4,563.2 447.9,560.3 450.1,561.0 452.3,560.3 454.5,560.3 456.7,562.4 458.1,569.0 459.6,574.2 461.1,571.2 462.5,566.1 464.0,569.8 465.4,553.0 466.9,539.7 467.9,545.6 469.1,566.1 470.3,561.7 471.3,560.3 472.8,564.6 474.2,560.3 475.3,536.8 476.4,525.1 477.6,522.9 478.6,532.4 479.6,554.4 480.8,555.9 482.0,551.5 483.0,520.7 484.0,517.8 485.2,517.8 486.4,526.6 487.0,551.5 488.1,554.4 489.6,552.9 491.0,554.4 492.5,555.9 494.0,557.3 495.1,558.0 497.3,558.8 498.8,561.7 500.2,563.2 501.7,557.3 503.2,552.9 504.6,554.4 506.1,563.2 507.6,567.6 508.7,567.6 509.7,551.5 510.8,548.5 511.9,552.9 513.1,560.3 514.1,557.3 515.6,554.4 517.1,550.0 518.5,557.3 520.0,552.9 521.4,551.5 522.9,545.6 524.4,539.7 525.4,541.2 526.6,547.1 528.0,554.4 529.5,563.2 531.0,566.1 532.4,560.3 533.9,561.7 535.3,554.4 536.8,551.5 538.3,558.8 539.7,554.4 541.2,557.3 542.6,552.9 544.1,551.5 545.6,552.9 547.0,558.8 548.5,569.0 550.0,570.5 551.1,564.6 552.2,552.9 553.6,550.0 555.1,545.6 556.1,544.2 557.3,551.5 558.0,558.8 559.0,551.5 560.2,551.5 561.7,563.2 563.1,572.0 564.6,574.9 566.1,572.0 567.5,569.0 569.0,563.0 570.7,557.7 572.5,554.1 574.3,552.3 575.8,555.9 577.0,548.7 577.9,538.0 579.3,504.0 580.6,539.8 581.5,557.7 582.9,548.7 584.2,545.1 585.1,561.2 586.5,566.6 587.8,555.9 589.0,548.7 590.4,554.1 591.9,563.0 593.1,550.5 594.0,559.4 595.5,550.5 596.7,567.5 598.0,541.6 599.0,505.8 600.3,492.4 601.6,505.8 602.6,559.4 603.9,554.1 605.1,551.4 606.6,554.1 608.0,553.2 609.3,561.2 610.5,566.6 611.9,572.9" fill="none" stroke="#3a70b5" stroke-width="2.0" stroke-linejoin="round" stroke-linecap="round"/>
<polyline points="186.9,435.2 188.2,435.2 189.3,448.8 190.2,440.4 191.1,444.3 192.4,437.8 193.7,432.6 195.4,432.6 197.1,433.9 198.4,436.5 199.7,441.7 200.6,443.0 201.5,436.5 202.5,434.5 203.6,433.2 204.9,437.1 206.2,436.5 207.5,439.1 208.8,441.7 210.1,444.3 211.4,446.2 212.7,439.1 214.0,433.2 215.6,432.6 216.9,431.2 218.2,435.2 219.5,443.0 220.8,450.1 221.8,452.1 223.1,449.5 224.4,445.6 225.7,439.1 227.0,435.2 228.6,431.9 229.9,431.2 231.4,431.9 232.4,434.0 233.9,442.9 235.8,450.7 237.8,456.5 239.7,462.3 240.7,464.3 241.7,454.5 242.7,452.6 244.0,458.4 245.2,474.0 246.0,489.6 247.1,500.3 248.5,501.3 249.9,495.5 251.0,474.0 252.0,439.0 253.4,435.1 255.3,434.1 257.3,433.1 258.6,431.8 259.5,432.5 260.5,439.0 261.5,449.4 262.1,457.1 263.1,463.6 264.1,470.1 265.1,473.4 266.4,472.7 267.3,474.0 268.6,485.7 270.9,495.5 272.9,503.3 274.9,512.3 276.5,520.4 278.1,533.4 279.8,538.3 281.4,541.5 283.0,545.6 284.6,546.4 286.3,546.1 287.9,544.8 289.5,541.5 291.1,535.0 292.8,531.0 294.1,531.8 295.2,535.0 296.8,541.5 298.5,546.4 300.1,547.2 301.7,545.6 303.3,544.8 305.0,546.4 306.6,542.4 308.2,543.2 309.8,544.0 311.5,544.8 313.1,545.6 314.7,544.8 316.3,544.8 318.0,544.0 319.6,542.4 321.2,539.1 322.8,539.9 324.5,537.5 326.1,536.7 327.7,535.9 329.3,533.4 330.5,532.6 331.8,536.7 333.4,539.9 335.0,540.7 336.7,539.9 338.3,537.5 339.9,531.8 341.5,522.0 343.2,510.7 344.6,502.5 345.7,509.0 346.8,518.8 348.1,528.5 349.4,538.3 350.6,544.8 351.7,546.1 356.3,546.1 364.4,546.4 372.5,546.7 380.7,546.7 388.8,546.4 392.8,545.6 395.3,546.4 397.7,548.0 399.8,547.2 401.8,543.2 403.4,540.2 405.0,539.9 406.3,541.5 407.5,545.6 409.1,547.2 411.5,546.1 414.0,545.6 416.4,546.1 417.9,546.8 420.8,547.8 422.0,542.7 423.0,540.5 424.5,540.5 426.0,538.3 427.0,536.8 428.2,538.3 428.9,547.1 429.6,544.2 431.8,544.2 434.0,544.5 436.9,544.9 439.9,545.3 442.0,544.2 443.5,543.0 445.0,538.3 445.7,529.5 447.2,526.6 448.3,520.7 449.8,518.5 451.6,517.8 453.8,517.1 455.9,516.4 457.4,514.2 458.9,512.0 460.6,511.2 461.8,512.7 463.0,519.3 464.0,526.6 465.0,533.9 466.2,539.7 467.4,545.6 469.1,547.4 471.3,547.8 473.5,547.1 475.0,542.7 476.4,538.3 477.9,541.2 479.3,544.9 481.5,546.3 483.7,547.8 485.2,542.7 486.6,531.0 488.1,532.4 489.6,535.4 491.0,537.6 493.2,536.8 494.4,536.1 496.6,535.4 498.8,534.6 500.2,533.9 501.7,539.7 503.9,541.2 506.1,542.0 507.6,541.2 509.0,539.0 510.5,544.9 511.9,541.2 513.4,542.7 514.9,540.5 516.3,542.0 517.8,539.0 519.3,537.6 520.7,539.7 522.2,536.8 523.9,533.2 525.1,533.2 526.3,536.8 527.7,542.7 529.5,544.9 531.7,544.9 533.9,545.6 536.1,544.9 537.5,547.1 539.0,547.1 540.5,542.7 541.9,533.9 542.9,528.8 544.4,529.5 545.6,535.4 547.0,542.7 548.5,544.9 550.7,544.9 552.2,544.2 553.2,533.9 554.1,512.0 554.6,505.4 555.5,507.6 556.1,533.9 557.0,519.3 557.9,518.5 558.7,533.9 559.9,545.6 560.9,544.2 562.4,539.7 563.9,537.6 565.3,536.1 566.8,538.3 568.1,539.8 569.9,548.7 571.6,550.5 573.4,541.6 574.7,520.1 575.8,521.9 577.0,541.6 578.3,545.1 579.7,543.3 581.1,546.9 582.4,543.3 583.6,566.6 584.7,557.7 586.0,541.6 587.2,523.7 588.3,495.0 589.6,494.2 590.8,502.2 591.9,523.7 593.1,541.6 594.9,545.1 596.7,548.7 598.5,543.3 600.3,541.6 602.1,545.1 603.9,534.4 605.1,525.5 606.6,525.5 608.0,530.8 609.3,539.8 611.0,541.6 612.3,540.7" fill="none" stroke="#b5393b" stroke-width="2.0" stroke-linejoin="round" stroke-linecap="round"/>
<rect x="114.9" y="396.4" width="502.9" height="186.2" fill="none" stroke="#444" stroke-width="1.1"/>
<path d="M111.9,396.4H114.9" stroke="#444" stroke-width="1"/>
<text x="108.8" y="399.7" font-size="9.45" text-anchor="end" fill="#2a2a2a" stroke="#2a2a2a" stroke-width="0.12" font-weight="normal" font-style="normal" >6</text>
<path d="M111.9,427.4H114.9" stroke="#444" stroke-width="1"/>
<text x="108.8" y="430.7" font-size="9.45" text-anchor="end" fill="#2a2a2a" stroke="#2a2a2a" stroke-width="0.12" font-weight="normal" font-style="normal" >4</text>
<path d="M111.9,458.5H114.9" stroke="#444" stroke-width="1"/>
<text x="108.8" y="461.8" font-size="9.45" text-anchor="end" fill="#2a2a2a" stroke="#2a2a2a" stroke-width="0.12" font-weight="normal" font-style="normal" >2</text>
<path d="M111.9,489.5H114.9" stroke="#444" stroke-width="1"/>
<text x="108.8" y="492.8" font-size="9.45" text-anchor="end" fill="#2a2a2a" stroke="#2a2a2a" stroke-width="0.12" font-weight="normal" font-style="normal" >0</text>
<path d="M111.9,520.5H114.9" stroke="#444" stroke-width="1"/>
<text x="108.8" y="523.8" font-size="9.45" text-anchor="end" fill="#2a2a2a" stroke="#2a2a2a" stroke-width="0.12" font-weight="normal" font-style="normal" >−2</text>
<path d="M111.9,551.6H114.9" stroke="#444" stroke-width="1"/>
<text x="108.8" y="554.9" font-size="9.45" text-anchor="end" fill="#2a2a2a" stroke="#2a2a2a" stroke-width="0.12" font-weight="normal" font-style="normal" >−4</text>
<path d="M111.9,582.6H114.9" stroke="#444" stroke-width="1"/>
<text x="108.8" y="585.9" font-size="9.45" text-anchor="end" fill="#2a2a2a" stroke="#2a2a2a" stroke-width="0.12" font-weight="normal" font-style="normal" >−6</text>
<path d="M186.4,582.6V584.8000000000001" stroke="#444" stroke-width="1"/>
<text x="186.4" y="596.3" font-size="9.45" text-anchor="middle" fill="#2a2a2a" stroke="#2a2a2a" stroke-width="0.12" font-weight="normal" font-style="normal" >0</text>
<path d="M222.4,582.6V584.8000000000001" stroke="#444" stroke-width="1"/>
<path d="M258.3,582.6V584.8000000000001" stroke="#444" stroke-width="1"/>
<text x="258.3" y="596.3" font-size="9.45" text-anchor="middle" fill="#2a2a2a" stroke="#2a2a2a" stroke-width="0.12" font-weight="normal" font-style="normal" >10</text>
<path d="M294.2,582.6V584.8000000000001" stroke="#444" stroke-width="1"/>
<path d="M330.2,582.6V584.8000000000001" stroke="#444" stroke-width="1"/>
<text x="330.2" y="596.3" font-size="9.45" text-anchor="middle" fill="#2a2a2a" stroke="#2a2a2a" stroke-width="0.12" font-weight="normal" font-style="normal" >20</text>
<path d="M366.1,582.6V584.8000000000001" stroke="#444" stroke-width="1"/>
<path d="M402.1,582.6V584.8000000000001" stroke="#444" stroke-width="1"/>
<text x="402.1" y="596.3" font-size="9.45" text-anchor="middle" fill="#2a2a2a" stroke="#2a2a2a" stroke-width="0.12" font-weight="normal" font-style="normal" >30</text>
<path d="M438.1,582.6V584.8000000000001" stroke="#444" stroke-width="1"/>
<path d="M474.0,582.6V584.8000000000001" stroke="#444" stroke-width="1"/>
<text x="474.0" y="596.3" font-size="9.45" text-anchor="middle" fill="#2a2a2a" stroke="#2a2a2a" stroke-width="0.12" font-weight="normal" font-style="normal" >40</text>
<path d="M510.0,582.6V584.8000000000001" stroke="#444" stroke-width="1"/>
<path d="M545.9,582.6V584.8000000000001" stroke="#444" stroke-width="1"/>
<text x="545.9" y="596.3" font-size="9.45" text-anchor="middle" fill="#2a2a2a" stroke="#2a2a2a" stroke-width="0.12" font-weight="normal" font-style="normal" >50</text>
<path d="M581.9,582.6V584.8000000000001" stroke="#444" stroke-width="1"/>
<path d="M617.8,582.6V584.8000000000001" stroke="#444" stroke-width="1"/>
<text x="617.8" y="596.3" font-size="9.45" text-anchor="middle" fill="#2a2a2a" stroke="#2a2a2a" stroke-width="0.12" font-weight="normal" font-style="normal" >60</text>
<text x="367.9" y="612.2" font-size="9.45" text-anchor="middle" fill="#2a2a2a" stroke="#2a2a2a" stroke-width="0.12" font-weight="normal" font-style="normal" >Position (chromosome 19)/Mb</text>
<text transform="translate(91.2,490) rotate(-90)" font-size="9.6" text-anchor="middle" fill="#222">Odds ratio in plasma/log</text>
</svg></body></html>
